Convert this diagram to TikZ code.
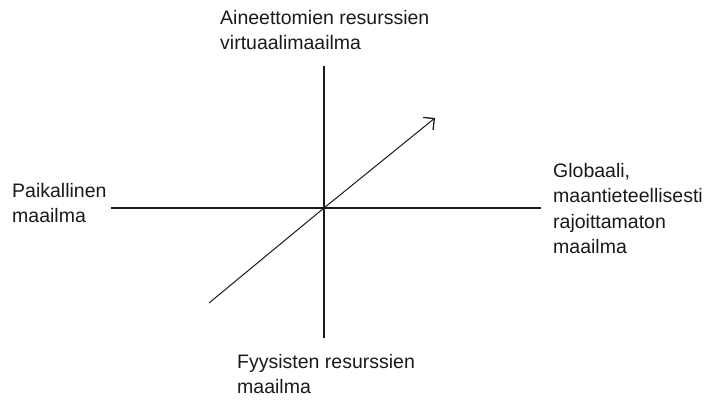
\documentclass[tikz,border=0pt]{standalone}
\usepackage{fontspec}
\setmainfont{Liberation Sans}
\usetikzlibrary{arrows.meta}
\definecolor{Viiva}{HTML}{1A1A1A}

\begin{document}
\begin{tikzpicture}[x=1pt,y=1pt,
      font={\fontsize{19.5}{25.5}\selectfont},
      akseli/.style={draw=Viiva,line width=1.3pt},
      nimi/.style={anchor=north west,inner sep=0pt,align=left,text=Viiva}]
    \useasboundingbox[fill=white] (0,0) rectangle (706,401);
    \coordinate (origo) at (324,193);
    \coordinate (ylos) at (324,335);
    \coordinate (alas) at (324,63);
    \coordinate (vasen) at (111,193);
    \coordinate (oikea) at (541,193);
    \coordinate (kulma) at (209,98);
    \coordinate (karki) at (435,283);

    \draw[akseli] (vasen) -- (oikea);
    \draw[akseli] (alas) -- (ylos);
    \draw[draw=Viiva,line width=1pt,
          -{Straight Barb[length=8pt,width=16pt,line width=1.3pt]}]
      (kulma) -- (origo) -- (karki);

    \node[nimi] (virtuaali) at (220,391)
      {Aineettomien resurssien\\virtuaalimaailma};
    \node[nimi] (fyysinen) at (237,47)
      {Fyysisten resurssien\\maailma};
    \node[nimi] (paikallinen) at (12,218)
      {Paikallinen\\maailma};
    \node[nimi] (globaali) at (553,238)
      {Globaali,\\maantieteellisesti\\rajoittamaton\\maailma};
\end{tikzpicture}
\end{document}
